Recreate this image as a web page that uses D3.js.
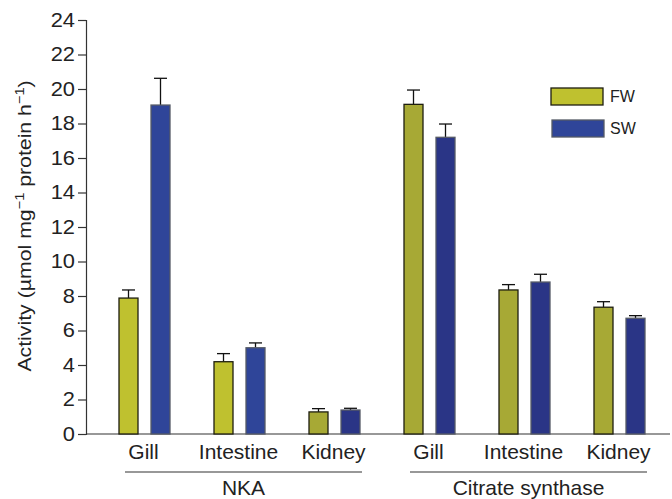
<!DOCTYPE html>
<html>
<head>
<meta charset="utf-8">
<script src="https://cdn.jsdelivr.net/npm/d3@7"></script>
<style>
	body { margin: 0; background: #fff; }
	text { font-family: "Liberation Sans", Arial, sans-serif; fill: #222; }
</style>
</head>
<body>
<svg width="672" height="499"></svg>
<script>
const groups = ['NKA', 'Citrate synthase'];
const tissues = ['Gill', 'Intestine', 'Kidney'];
const series = ['FW', 'SW'];
// one entry per group x tissue, NKA first
const fwMean = [7.88, 4.19, 1.28, 19.11, 8.35, 7.35];
const fwErr  = [0.47, 0.47, 0.19, 0.83, 0.31, 0.32];
const swMean = [19.07, 5.0, 1.39, 17.2, 8.81, 6.71];
const swErr  = [1.55, 0.28, 0.10, 0.77, 0.45, 0.15];
const yTicks = d3.range(0, 25, 2);

const svg = d3.select('svg');
const width = +svg.attr('width');

// the original typeface is wider than Arial, so stretch some text sideways
const stretch = (sel, k) => sel.each(function() {
	const t = d3.select(this);
	const x = +t.attr('x') || 0;
	const y = +t.attr('y') || 0;
	t.attr('x', 0).attr('y', 0)
		.attr('transform', `translate(${x},${y}) scale(${k},1)`);
});

const keys = [];
groups.forEach(g => tissues.forEach(t => keys.push(g + '|' + t)));

const data = keys.map((k, i) => ({
	key: k,
	group: k.split('|')[0],
	tissue: k.split('|')[1],
	dark: i >= 2,
	values: [
		{ s: 'FW', v: fwMean[i], e: fwErr[i] },
		{ s: 'SW', v: swMean[i], e: swErr[i] }
	]
}));

const axisX = 86;
const yScale = d3.scaleLinear().domain([0, 24]).range([434, 20]);
const x0 = d3.scaleBand().domain(keys).range([97, 667]).padding(0);
const x1 = d3.scaleBand().domain(series).range([22, 73]).paddingInner(13 / 32).paddingOuter(0);

const colors = {
	FW: { light: '#bfc12f', dark: '#a7a935', stroke: '#1e1e10' },
	SW: { light: '#2f4599', dark: '#2a3586', stroke: '#555a66' }
};

// y axis
const yAxis = d3.axisLeft(yScale).tickValues(yTicks).tickSize(8).tickPadding(3);
const yAxisG = svg.append('g')
	.attr('transform', `translate(${axisX},0)`)
	.call(yAxis);
yAxisG.select('.domain').attr('stroke', '#333').attr('stroke-width', 1.2);
yAxisG.selectAll('.tick line').attr('stroke', '#333').attr('stroke-width', 1.2);
yAxisG.selectAll('.tick text')
	.attr('font-size', 19.5)
	.attr('font-family', '"Liberation Sans", Arial, sans-serif')
	.attr('fill', '#222')
	.call(stretch, 1.12);

// baseline
svg.append('line')
	.attr('x1', axisX).attr('x2', width - 2)
	.attr('y1', yScale(0)).attr('y2', yScale(0))
	.attr('stroke', '#333').attr('stroke-width', 1.2);

// bars
const cat = svg.selectAll('.cat').data(data).enter().append('g')
	.attr('class', 'cat')
	.attr('transform', d => `translate(${x0(d.key)},0)`);

const bar = cat.selectAll('.bar').data(d => d.values.map(v => ({ ...v, dark: d.dark })))
	.enter().append('g');

bar.append('line')
	.attr('x1', d => x1(d.s) + x1.bandwidth() / 2)
	.attr('x2', d => x1(d.s) + x1.bandwidth() / 2)
	.attr('y1', d => yScale(d.v))
	.attr('y2', d => yScale(d.v + d.e))
	.attr('stroke', '#111').attr('stroke-width', 1.3);

bar.append('line')
	.attr('x1', d => x1(d.s) + x1.bandwidth() / 2 - 6.5)
	.attr('x2', d => x1(d.s) + x1.bandwidth() / 2 + 6.5)
	.attr('y1', d => yScale(d.v + d.e))
	.attr('y2', d => yScale(d.v + d.e))
	.attr('stroke', '#111').attr('stroke-width', 1.3);

bar.append('rect')
	.attr('x', d => x1(d.s))
	.attr('width', x1.bandwidth())
	.attr('y', d => yScale(d.v))
	.attr('height', d => yScale(0) - yScale(d.v))
	.attr('fill', d => d.dark ? colors[d.s].dark : colors[d.s].light)
	.attr('stroke', d => colors[d.s].stroke)
	.attr('stroke-width', 1.3);

// tissue labels
cat.append('text')
	.attr('x', x0.bandwidth() / 2 - 1)
	.attr('y', 459)
	.attr('text-anchor', 'middle')
	.attr('font-size', 21)
	.text(d => d.tissue);

// group underline + label
groups.forEach(g => {
	const ks = keys.filter(k => k.startsWith(g + '|'));
	const xa = x0(ks[0]) + 28;
	const xb = x0(ks[ks.length - 1]) + 75;
	svg.append('line')
		.attr('x1', xa).attr('x2', xb)
		.attr('y1', 472).attr('y2', 472)
		.attr('stroke', '#333').attr('stroke-width', 1.2);
	svg.append('text')
		.attr('x', (xa + xb) / 2)
		.attr('y', 495)
		.attr('text-anchor', 'middle')
		.attr('font-size', 21)
		.text(g);
});

// legend
const legend = svg.append('g').attr('transform', 'translate(551,88)');
series.forEach((s, i) => {
	legend.append('rect')
		.attr('x', i).attr('y', i * 32)
		.attr('width', 52).attr('height', 17)
		.attr('fill', colors[s].light)
		.attr('stroke', colors[s].stroke)
		.attr('stroke-width', 1.3);
	legend.append('text')
		.attr('x', 59).attr('y', i * 32 + 14)
		.attr('font-size', 16)
		.text(s);
});

// y label
const yLabel = svg.append('text')
	.attr('transform', 'translate(31,226) rotate(-90) scale(1.12,1)')
	.attr('text-anchor', 'middle')
	.attr('font-size', 19);
yLabel.append('tspan').text('Activity (\u00b5mol mg');
yLabel.append('tspan').attr('font-size', 13).attr('dy', -7).text('\u22121');
yLabel.append('tspan').attr('dy', 7).text(' protein h');
yLabel.append('tspan').attr('font-size', 13).attr('dy', -7).text('\u22121');
yLabel.append('tspan').attr('dy', 7).text(')');
</script>
</body>
</html>
